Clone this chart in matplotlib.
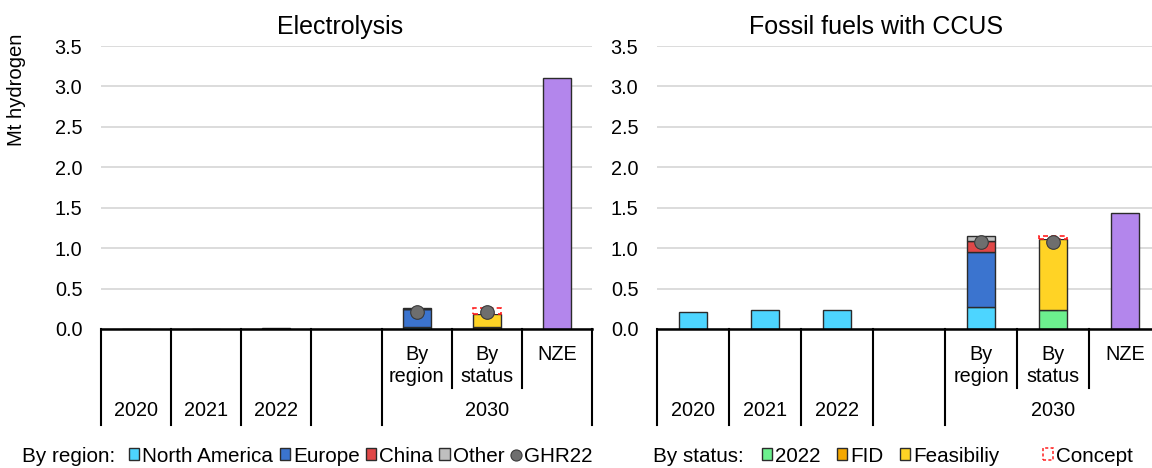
import matplotlib
matplotlib.use("Agg")
import matplotlib.pyplot as plt
import matplotlib.transforms as mtransforms
from matplotlib.patches import Patch
from matplotlib.lines import Line2D
import numpy as np

plt.rcParams['font.family'] = ['Liberation Sans', 'DejaVu Sans']

# ---------------- data ----------------
slot_labels = ["2020", "2021", "2022", "", "By\nregion", "By\nstatus", "NZE"]
group_labels = ["2020", "2021", "2022", "", "2030"]
panel_titles = ["Electrolysis", "Fossil fuels with CCUS"]

region_names = ["North America", "Europe", "China", "Other"]
status_names = ["2022", "FID", "Feasibiliy", "Concept"]

# Electrolysis
elec_hist = [0.004, 0.006, 0.012]
elec_region = [0.02, 0.225, 0.008, 0.007]
elec_status = [0.006, 0.02, 0.164, 0.07]
elec_ghr22 = [0.21, 0.21]
elec_nze = 3.11

# Fossil fuels with CCUS
ccus_hist = [0.21, 0.24, 0.24]
ccus_region = [0.27, 0.68, 0.14, 0.06]
ccus_status = [0.24, 0.0, 0.87, 0.04]
ccus_ghr22 = [1.07, 1.07]
ccus_nze = 1.44

yticks = [0.0, 0.5, 1.0, 1.5, 2.0, 2.5, 3.0, 3.5]

# ---------------- style ----------------
c_region = ["#4dd5ff", "#3b74cf", "#e04848", "#bfbfbf"]
c_status = ["#6cf08e", "#f5a800", "#ffd325", "#ffffff"]
c_nze = "#b386ec"
c_dot = "#6e6e6e"
edge = "#2b2b2b"
FS = 14.3
LFS = 14.9
BW = 0.4

fig = plt.figure(figsize=(11.52, 4.68), dpi=100)
W, H = 1152, 468

def ax_rect(x0, x1, ytop, ybot):
    return [x0 / W, 1 - ybot / H, (x1 - x0) / W, (ybot - ytop) / H]

ax1 = fig.add_axes(ax_rect(101, 592, 46, 329))
ax2 = fig.add_axes(ax_rect(657, 1161, 46, 329))

def draw_panel(ax, hist, region, status, ghr, nze):
    x = np.arange(len(slot_labels))
    # historical
    ax.bar(x[:3], hist, width=BW, color=c_region[0], edgecolor=edge, lw=1.0, zorder=3)
    # by region
    bottom = 0.0
    for v, c in zip(region, c_region):
        ax.bar(x[4], v, bottom=bottom, width=BW, color=c, edgecolor=edge, lw=1.0, zorder=3)
        bottom += v
    # by status
    bottom = 0.0
    for i, (v, c) in enumerate(zip(status, c_status)):
        if i == 3:
            ax.bar(x[5], v, bottom=bottom, width=BW, facecolor="white", edgecolor="#ff2020",
                   lw=1.2, linestyle=(0, (3, 2)), zorder=3)
        elif v > 0:
            ax.bar(x[5], v, bottom=bottom, width=BW, color=c, edgecolor=edge, lw=1.0, zorder=3)
        bottom += v
    # NZE
    ax.bar(x[6], nze, width=BW, color=c_nze, edgecolor=edge, lw=1.0, zorder=3)
    # GHR22 dots
    ax.plot(x[4:6], ghr, linestyle="none", marker="o", ms=9.8, color=c_dot,
            markeredgecolor="#3a3a3a", mew=0.8, zorder=5)

    ax.set_xlim(-0.5, 6.5)
    ax.set_ylim(0, 3.5)
    ax.set_yticks(yticks)
    ax.set_yticklabels([f"{t:.1f}" for t in yticks], fontsize=FS)
    ax.tick_params(axis="y", length=0, pad=13.5)
    ax.set_xticks([])
    ax.yaxis.grid(True, color="#d9d9d9", lw=1.3)
    ax.set_axisbelow(True)
    for s in ["left", "right", "top"]:
        ax.spines[s].set_visible(False)
    ax.spines["bottom"].set_color("black")
    ax.spines["bottom"].set_linewidth(1.8)
    ax.spines["bottom"].set_zorder(4)

    tr = mtransforms.blended_transform_factory(ax.transData, ax.transAxes)
    long_end = -(425 - 329) / 283
    short_end = -(388 - 329) / 283
    for b in [-0.5, 0.5, 1.5, 2.5, 3.5, 6.5]:
        ax.plot([b, b], [0, long_end], transform=tr, color="black", lw=1.5, clip_on=False)
    for b in [4.5, 5.5]:
        ax.plot([b, b], [0, short_end], transform=tr, color="black", lw=1.5, clip_on=False)
    # level-1 labels
    for i in range(4, 7):
        ax.text(i, -(345 - 329) / 283, slot_labels[i], transform=tr, ha="center", va="top",
                fontsize=FS, linespacing=1.2)
    # level-2 labels
    ylev2 = -(410 - 329) / 283
    for i in range(3):
        ax.text(i, ylev2, group_labels[i], transform=tr, ha="center", va="center", fontsize=FS)
    ax.text(5, ylev2, group_labels[4], transform=tr, ha="center", va="center", fontsize=FS)

draw_panel(ax1, elec_hist, elec_region, elec_status, elec_ghr22, elec_nze)
draw_panel(ax2, ccus_hist, ccus_region, ccus_status, ccus_ghr22, ccus_nze)

fig.text(340 / W, 1 - 27 / H, panel_titles[0], ha="center", va="center", fontsize=18)
fig.text(876 / W, 1 - 27 / H, panel_titles[1], ha="center", va="center", fontsize=18)
fig.text(17 / W, 1 - 90 / H, "Mt hydrogen", rotation=90, ha="center", va="center", fontsize=14.6)

# ---------------- legends ----------------
ly = 1 - 456 / H
common = dict(loc="center left", frameon=False, fontsize=LFS, handlelength=0.5,
              handleheight=0.5, handletextpad=0.15, borderpad=0, borderaxespad=0)

fig.text(22 / W, ly, "By region:", ha="left", va="center", fontsize=LFS)
h_region = [Patch(facecolor=c, edgecolor=edge, lw=1.0) for c in c_region]
h_region.append(Line2D([], [], linestyle="none", marker="o", ms=8, color=c_dot,
                       markeredgecolor="#3a3a3a", mew=0.8))
fig.legend(h_region, region_names + ["GHR22"], bbox_to_anchor=(129 / W, ly), ncol=5,
           columnspacing=0.3, **common)

fig.text(653 / W, ly, "By status:", ha="left", va="center", fontsize=LFS)
h_status = [Patch(facecolor=c, edgecolor=edge, lw=1.0) for c in c_status[:3]]
fig.legend(h_status, status_names[:3], bbox_to_anchor=(762 / W, ly), ncol=3,
           columnspacing=0.78, **common)
h_concept = [Patch(facecolor="white", edgecolor="#ff2020", lw=1.1, linestyle=(0, (2, 1.5)))]
fig.legend(h_concept, status_names[3:], bbox_to_anchor=(1043 / W, ly), ncol=1, **common)

fig.savefig("out.png", dpi=100)
